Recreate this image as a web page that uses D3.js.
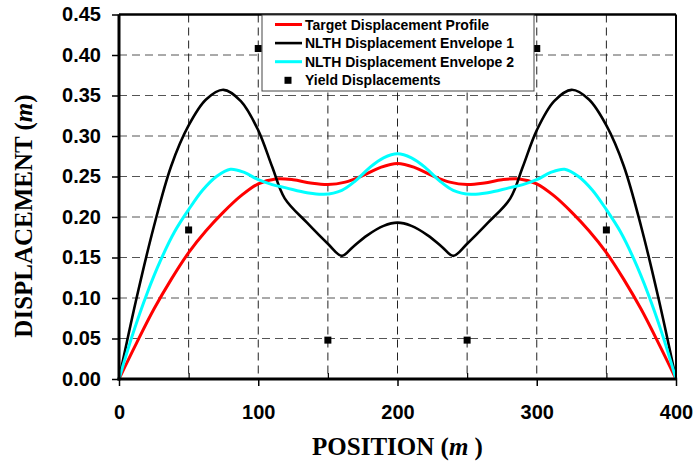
<!DOCTYPE html>
<html>
<head>
<meta charset="utf-8">
<script src="https://cdn.jsdelivr.net/npm/d3@7"></script>
<style>
  html, body { margin: 0; padding: 0; background: #fff; }
  svg { display: block; }
  .tick text { font-family: "Liberation Sans", Arial, sans-serif; font-weight: bold; }
</style>
</head>
<body>
<div id="chart"></div>
<script>
// ---- data ----
const targetX = [0, 12.5, 25, 37.5, 50, 62.5, 75, 87.5, 100, 112.5, 125, 137.5, 150, 162.5, 175, 187.5, 200,
  212.5, 225, 237.5, 250, 262.5, 275, 287.5, 300, 312.5, 325, 337.5, 350, 362.5, 375, 387.5, 400];
const targetY = [0, 0.044, 0.086, 0.123, 0.156, 0.183, 0.206, 0.226, 0.241, 0.247, 0.246, 0.242, 0.240, 0.243, 0.251, 0.261, 0.266,
  0.261, 0.251, 0.243, 0.240, 0.242, 0.246, 0.247, 0.241, 0.226, 0.206, 0.183, 0.156, 0.123, 0.086, 0.044, 0];

const env1X = [0, 12.5, 25, 37.5, 50, 62.5, 75, 87.5, 100, 110, 119, 135, 150, 160, 168, 178, 190, 200,
  210, 222, 232, 240, 250, 265, 281, 290, 300, 312.5, 325, 337.5, 350, 362.5, 375, 387.5, 400];
const env1Y = [0, 0.099, 0.188, 0.263, 0.313, 0.345, 0.357, 0.343, 0.307, 0.262, 0.223, 0.193, 0.167, 0.152, 0.163, 0.177, 0.189, 0.193,
  0.189, 0.177, 0.163, 0.152, 0.167, 0.193, 0.223, 0.262, 0.307, 0.343, 0.357, 0.345, 0.313, 0.263, 0.188, 0.099, 0];

const env2X = [0, 10, 20, 30, 40, 50, 60, 70, 80, 90, 100, 110, 120, 135, 147, 160, 170, 180, 190, 200,
  210, 220, 230, 240, 253, 265, 280, 290, 300, 310, 320, 330, 340, 350, 360, 370, 380, 390, 400];
const env2Y = [0, 0.056, 0.105, 0.147, 0.182, 0.209, 0.233, 0.250, 0.259, 0.255, 0.246, 0.240, 0.236, 0.230, 0.228, 0.233, 0.245, 0.261, 0.273, 0.278,
  0.273, 0.261, 0.245, 0.233, 0.228, 0.230, 0.236, 0.240, 0.246, 0.255, 0.259, 0.250, 0.233, 0.209, 0.182, 0.147, 0.105, 0.056, 0];

const yieldX = [50, 100, 150, 250, 300, 350];
const yieldY = [0.184, 0.408, 0.048, 0.048, 0.408, 0.184];

const xMajorTicks = [0, 100, 200, 300, 400];
const xMinorTicks = [50, 150, 250, 350];
const xGrid = [50, 100, 150, 200, 250, 300, 350];
const yTicks = [0, 0.05, 0.10, 0.15, 0.20, 0.25, 0.30, 0.35, 0.40, 0.45];
const yGrid = [0.05, 0.10, 0.15, 0.20, 0.25, 0.30, 0.35, 0.40];

const series = [
  { name: 'Target Displacement Profile', xs: targetX, ys: targetY, color: '#ff0000', width: 3 },
  { name: 'NLTH Displacement Envelope 1', xs: env1X, ys: env1Y, color: '#000000', width: 2.6 },
  { name: 'NLTH Displacement Envelope 2', xs: env2X, ys: env2Y, color: '#00ffff', width: 3 }
];

// ---- layout ----
const width = 695, height = 462;
const margin = { top: 14.5, right: 19, bottom: 83, left: 119 };
const innerW = width - margin.left - margin.right;
const innerH = height - margin.top - margin.bottom;

const svg = d3.select('#chart').append('svg')
  .attr('width', width)
  .attr('height', height);

const g = svg.append('g').attr('transform', `translate(${margin.left},${margin.top})`);

const x = d3.scaleLinear().domain([0, 400]).range([0, innerW]);
const y = d3.scaleLinear().domain([0, 0.45]).range([innerH, 0]);

// grid
g.append('g').selectAll('line')
  .data(yGrid)
  .join('line')
  .attr('x1', 0).attr('x2', innerW)
  .attr('y1', d => y(d)).attr('y2', d => y(d))
  .attr('stroke', '#555')
  .attr('stroke-width', 1)
  .attr('stroke-dasharray', '8,5');

g.append('g').selectAll('line')
  .data(xGrid)
  .join('line')
  .attr('x1', d => x(d)).attr('x2', d => x(d))
  .attr('y1', 0).attr('y2', innerH)
  .attr('stroke', '#222')
  .attr('stroke-width', 1)
  .attr('stroke-dasharray', '8,5');

// series
const line = d3.line()
  .x(d => x(d[0]))
  .y(d => y(d[1]))
  .curve(d3.curveCatmullRom.alpha(0.5));

g.append('g').selectAll('path')
  .data(series)
  .join('path')
  .attr('d', s => line(s.xs.map((v, i) => [v, s.ys[i]])))
  .attr('fill', 'none')
  .attr('stroke', s => s.color)
  .attr('stroke-width', s => s.width)
  .attr('stroke-linejoin', 'round');

// yield markers
g.append('g').selectAll('rect')
  .data(yieldX.map((v, i) => [v, yieldY[i]]))
  .join('rect')
  .attr('x', d => x(d[0]) - 3.5)
  .attr('y', d => y(d[1]) - 3.5)
  .attr('width', 7)
  .attr('height', 7)
  .attr('fill', '#000');

// frame (top, right)
g.append('line')
  .attr('x1', 0).attr('x2', innerW).attr('y1', 0).attr('y2', 0)
  .attr('stroke', '#000').attr('stroke-width', 2.5);
g.append('line')
  .attr('x1', innerW).attr('x2', innerW).attr('y1', 0).attr('y2', innerH)
  .attr('stroke', '#000').attr('stroke-width', 2);

// axes
const yAxis = g.append('g')
  .call(d3.axisLeft(y).tickValues(yTicks).tickSize(7).tickPadding(11).tickFormat(d3.format('.2f')));
yAxis.select('.domain').attr('stroke-width', 3).attr('d', `M0,${innerH + 1.5}V0`);
yAxis.selectAll('.tick line').attr('stroke-width', 1.5);
yAxis.selectAll('.tick text').attr('font-size', 20).attr('fill', '#000');

const xAxis = g.append('g')
  .attr('transform', `translate(0,${innerH})`)
  .call(d3.axisBottom(x).tickValues(xMajorTicks).tickSize(7).tickPadding(19).tickFormat(d3.format('d')));
xAxis.select('.domain').attr('stroke-width', 3).attr('d', `M-1.5,0H${innerW + 1}`);
xAxis.selectAll('.tick line').attr('stroke-width', 1.5);
xAxis.selectAll('.tick text').attr('font-size', 20).attr('fill', '#000');

const xMinor = g.append('g')
  .attr('transform', `translate(0,${innerH})`)
  .call(d3.axisBottom(x).tickValues(xMinorTicks).tickSize(-6).tickFormat(''));
xMinor.select('.domain').remove();
xMinor.selectAll('.tick line').attr('stroke-width', 1.2);

// axis titles
const titleFont = '"Liberation Serif", "Times New Roman", serif';
const xTitle = svg.append('text')
  .attr('x', margin.left + innerW / 2)
  .attr('y', 455)
  .attr('text-anchor', 'middle')
  .attr('font-family', titleFont)
  .attr('font-weight', 'bold')
  .attr('font-size', 25)
  .attr('fill', '#000');
xTitle.append('tspan').text('POSITION (');
xTitle.append('tspan').attr('font-style', 'italic').text('m');
xTitle.append('tspan').text(' )');

const yTitle = svg.append('text')
  .attr('transform', 'translate(32,216) rotate(-90)')
  .attr('text-anchor', 'middle')
  .attr('font-family', titleFont)
  .attr('font-weight', 'bold')
  .attr('font-size', 25)
  .attr('fill', '#000');
yTitle.append('tspan').text('DISPLACEMENT (');
yTitle.append('tspan').attr('font-style', 'italic').text('m');
yTitle.append('tspan').text(')');

// legend
const legend = svg.append('g').attr('transform', 'translate(262,15)');
legend.append('rect')
  .attr('width', 272).attr('height', 76)
  .attr('fill', '#fff')
  .attr('stroke', '#444')
  .attr('stroke-width', 1);

const legendRows = series.map(s => ({ name: s.name, color: s.color, width: s.width, type: 'line' }))
  .concat([{ name: 'Yield Displacements', type: 'marker' }]);

const rowH = 18.6;
const rows = legend.selectAll('g.row')
  .data(legendRows)
  .join('g')
  .attr('class', 'row')
  .attr('transform', (d, i) => `translate(0,${9.5 + i * rowH})`);

rows.filter(d => d.type === 'line').append('line')
  .attr('x1', 13).attr('x2', 40)
  .attr('stroke', d => d.color)
  .attr('stroke-width', d => d.width);

rows.filter(d => d.type === 'marker').append('rect')
  .attr('x', 22.5).attr('y', -3.5)
  .attr('width', 7).attr('height', 7)
  .attr('fill', '#000');

rows.append('text')
  .attr('x', 43)
  .attr('dy', '0.36em')
  .attr('font-family', '"Liberation Sans", Arial, sans-serif')
  .attr('font-weight', 'bold')
  .attr('font-size', 14)
  .attr('fill', '#000')
  .text(d => d.name);
</script>
</body>
</html>
